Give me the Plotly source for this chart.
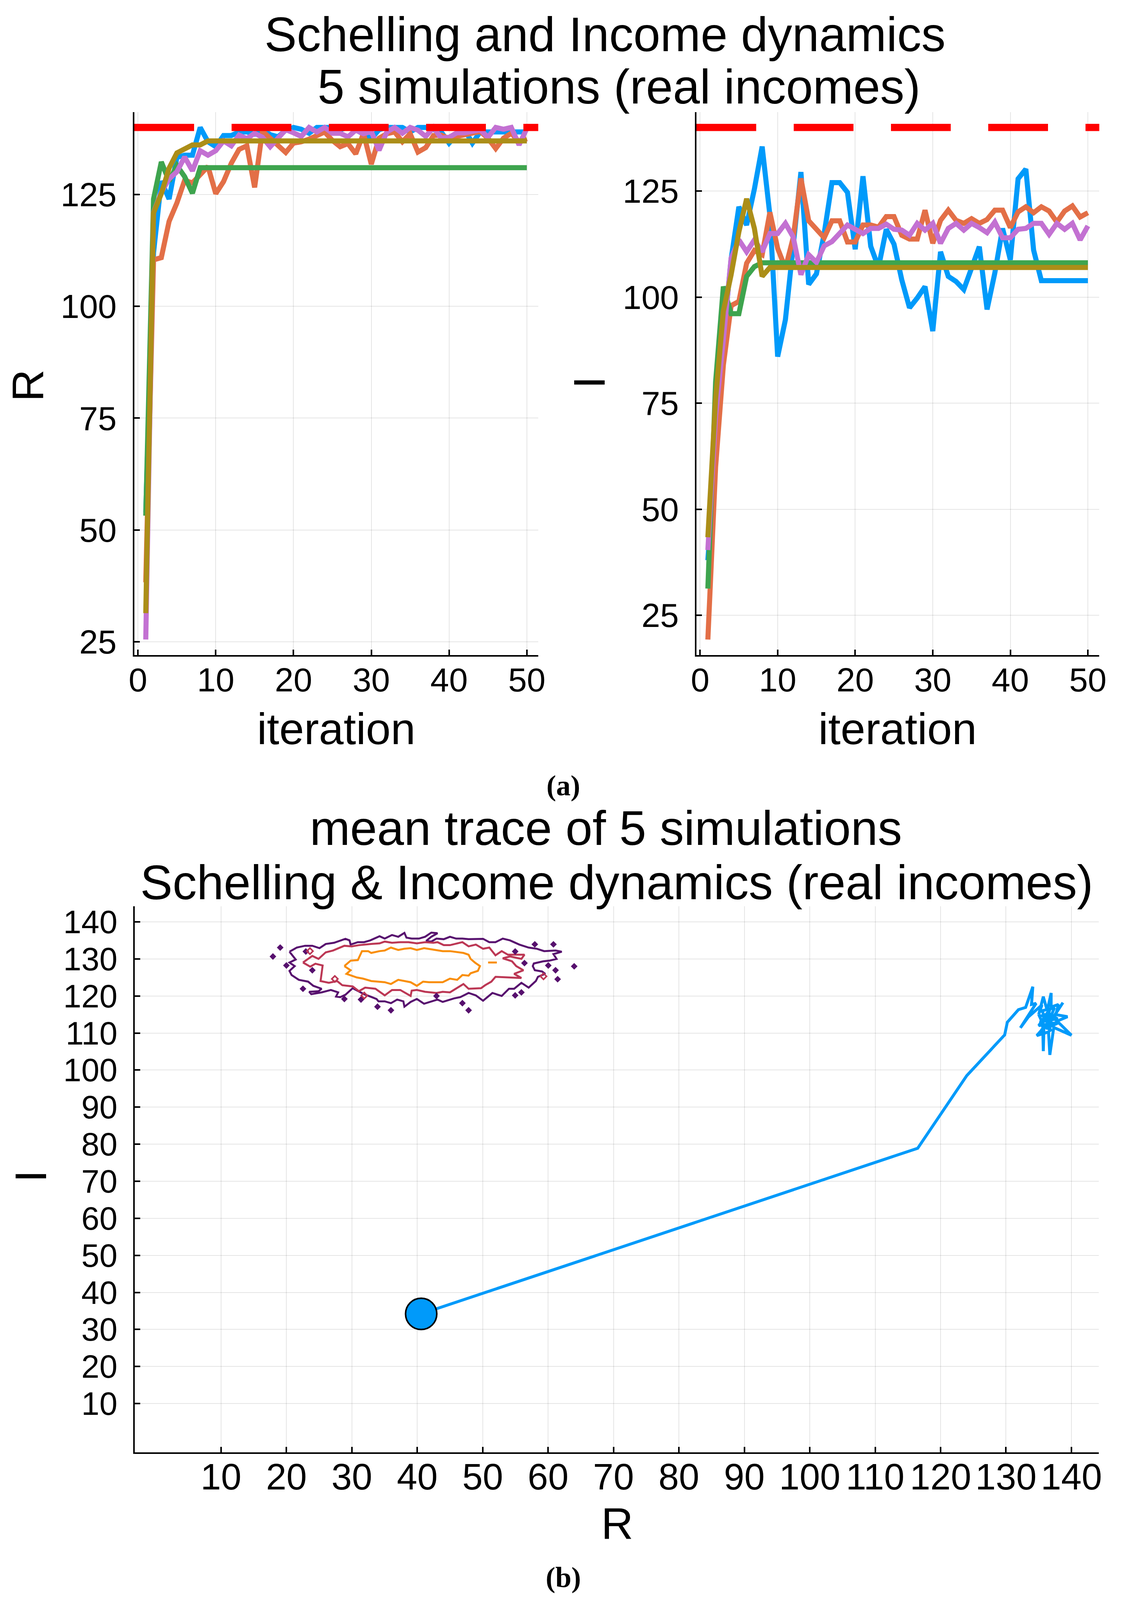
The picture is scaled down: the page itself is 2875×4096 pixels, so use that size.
import plotly.graph_objects as go

# ---------------- data ----------------
iterations = list(range(1, 51))

# R (top-left panel), five simulations
R_sim1 = [54, 112, 128, 124, 133.3, 133.8, 133.8, 140, 136.8, 135.7,
          138.2, 138.2, 139, 139, 138.5, 139.6, 138.4, 137.9, 139.4, 140,
          139.6, 138.7, 140, 140, 140, 139.5, 140, 139.5, 138.5, 137.5,
          139.5, 140, 140, 140, 139, 140, 140, 139.5, 139, 136.5,
          138.5, 139.5, 136.5, 139, 139, 139, 139, 139, 139, 139]
R_sim2 = [38.3, 110.4, 110.9, 119, 123.1, 128.2, 127.6, 129.5, 131.3, 125.2,
          127.9, 132, 135.1, 135.9, 126.6, 139.2, 137.6, 136.3, 134.4, 136.5,
          136.8, 137.4, 138.2, 139, 137.1, 135.7, 136.4, 134.1, 138.7, 131.8,
          137.6, 138.6, 139, 136.8, 138.6, 134.5, 135.5, 138.2, 138.3, 137.5,
          138, 138.4, 138.8, 139.1, 137.6, 135.3, 137.6, 138.7, 136.8, 137.5]
R_sim3 = [53.2, 124, 132.3, 128, 131.5, 129, 125.3, 131, 131, 131,
          131, 131, 131, 131, 131, 131, 131, 131, 131, 131,
          131, 131, 131, 131, 131, 131, 131, 131, 131, 131,
          131, 131, 131, 131, 131, 131, 131, 131, 131, 131,
          131, 131, 131, 131, 131, 131, 131, 131, 131, 131]
R_sim4 = [25.5, 121, 125.5, 128.5, 130.1, 133.4, 130.3, 134.8, 133.8, 134.8,
          137, 135.9, 138.3, 137.5, 138.7, 137.8, 135.7, 137.6, 139.5, 138.8,
          138, 140, 139, 140, 138.7, 138.7, 137.9, 139.4, 138.6, 139.1,
          134.9, 139, 140, 138.7, 140, 139.4, 138, 140, 137.6, 137.8,
          138.8, 138.8, 139.1, 139.5, 137.8, 140, 139.6, 140, 136.1, 139.8]
R_sim5 = [31.4, 120.9, 125.2, 130.9, 134.3, 135.2, 136.1, 136.1, 137, 137,
          137, 137, 137, 137, 137, 137, 137, 137, 137, 137,
          137, 137, 137, 137, 137, 137, 137, 137, 137, 137,
          137, 137, 137, 137, 137, 137, 137, 137, 137, 137,
          137, 137, 137, 137, 137, 137, 137, 137, 137, 137]

# I (top-right panel), five simulations
I_sim1 = [38, 66, 90, 109, 121.3, 117, 125.5, 135.5, 119.3, 86,
          94.7, 112, 129.5, 103, 105.5, 115, 127, 127, 124.7, 111.3,
          128.5, 112, 107, 116, 112.5, 104.1, 97.5, 99.8, 102.5, 92,
          110.7, 104.9, 103.7, 101.8, 107.2, 111.9, 97.1, 105.7, 116.2, 108.8,
          127.9, 130.2, 111.1, 103.9, 103.9, 103.9, 103.9, 103.9, 103.9, 103.9]
I_sim2 = [19.3, 60, 84, 98, 99, 108, 111, 110, 120, 111.5,
          106.8, 114, 128, 118, 116, 114, 118, 118, 113, 113,
          117, 117, 116.5, 119, 119, 114.6, 113.7, 113.7, 120.5, 112.7,
          118.1, 120.5, 118.1, 117.4, 118.5, 117.4, 118.3, 120.5, 120.5, 116.4,
          120.1, 121.3, 119.9, 121.3, 120.3, 117.7, 120.3, 121.5, 118.9, 119.9]
I_sim3 = [31.3, 80, 102.5, 96.1, 96.1, 104.9, 107.2, 108.1, 108.1, 108.1,
          108.1, 108.1, 108.1, 108.1, 108.1, 108.1, 108.1, 108.1, 108.1, 108.1,
          108.1, 108.1, 108.1, 108.1, 108.1, 108.1, 108.1, 108.1, 108.1, 108.1,
          108.1, 108.1, 108.1, 108.1, 108.1, 108.1, 108.1, 108.1, 108.1, 108.1,
          108.1, 108.1, 108.1, 108.1, 108.1, 108.1, 108.1, 108.1, 108.1, 108.1]
I_sim4 = [40.4, 72, 90, 109.2, 113.5, 110.7, 113.5, 110.7, 115, 115,
          117.4, 114.2, 105.3, 110, 108.2, 112.1, 113.1, 115, 117, 116,
          115, 116.2, 116.2, 117.2, 116, 115.8, 114.6, 117.4, 115.8, 117.4,
          112.7, 116.2, 117.4, 115.8, 117.4, 116.4, 115.2, 117.7, 114, 114,
          116, 116.2, 117.4, 117.4, 114.8, 117.4, 116, 117.4, 113.5, 116.8]
I_sim5 = [43.4, 76, 96.7, 105.3, 115.4, 123.2, 116.2, 104.9, 107, 107,
          107, 107, 107, 107, 107, 107, 107, 107, 107, 107,
          107, 107, 107, 107, 107, 107, 107, 107, 107, 107,
          107, 107, 107, 107, 107, 107, 107, 107, 107, 107,
          107, 107, 107, 107, 107, 107, 107, 107, 107, 107]

max_level = 140          # red dashed reference level in both top panels

# mean trace (bottom panel)
mean_R = [40.6, 116.5, 124.0, 129.8, 130.2, 131.9, 133.0, 134.1, 133.9, 134.6,
          132.2, 133.4, 135.5, 135.0, 135.7, 136.3, 136.9, 136.9, 138.0, 137.7,
          138.7, 137.5, 139.4, 137.8, 138.4, 140.0, 137.3, 136.7, 136.5, 134.7,
          135.8, 135.7, 135.6, 135.1, 136.3, 135.4, 136.8, 136.2, 137.2, 136.4,
          137.9, 135.2, 136.9, 135.5, 137.4, 136.1, 138.2, 135.0, 136.5, 137.0,
          135.8, 136.7, 136.2, 137.6, 135.4, 136.6, 136.0, 136.8, 135.9, 136.6]
mean_I = [34.2, 78.9, 98.5, 109.5, 112.9, 116.3, 116.9, 122.5, 117.7, 118.0,
          111.4, 114.3, 117.6, 115.0, 119.8, 116.0, 120.8, 117.0, 117.7, 115.5,
          118.2, 115.0, 114.4, 113.2, 112.2, 109.4, 111.5, 104.1, 110.3, 109.3,
          111.5, 105.1, 112.6, 114.6, 114.8, 113.0, 113.5, 112.0, 114.0, 115.4,
          113.8, 113.2, 110.5, 116.0, 116.8, 111.2, 112.9, 112.0, 115.8, 112.3,
          114.2, 116.4, 113.0, 114.6, 110.8, 112.8, 113.8, 112.8, 114.2, 113.6]

# density contour lines (bottom panel), three levels
outer_R = [20.47, 21.58, 22.85, 23.96, 25.06, 26.01, 27.28, 29.02, 29.65, 29.81,
           30.92, 31.87, 32.82, 34.24, 35.03, 36.14, 37.09, 38.04, 38.35, 39.15,
           40.25, 41.20, 42.15, 43.10, 42.15, 41.36, 42.15, 42.94, 44.05, 45.00,
           45.95, 46.90, 47.85, 50.06, 51.01, 51.96, 53.07, 54.18, 55.60, 57.03,
           58.29, 59.40, 61.14, 62.09, 60.82, 61.30, 60.19, 59.24, 57.82, 57.66,
           57.97, 59.08, 59.56, 58.45, 58.13, 57.03, 55.92, 54.81, 54.02, 52.91,
           51.49, 50.06, 48.96, 47.85, 46.58, 45.63, 43.89, 43.10, 41.04, 39.94,
           38.99, 38.04, 37.88, 36.93, 35.98, 35.03, 34.08, 33.77, 32.82, 31.87,
           30.13, 29.02, 28.23, 27.59, 27.91, 26.80, 25.38, 23.80, 23.48, 24.91,
           25.38, 24.11, 23.32, 21.90, 20.79, 20.47, 21.27, 20.47, 21.42, 20.47]
outer_I = [131.94, 133.06, 133.55, 133.55, 132.90, 134.03, 134.35, 135.42, 135.00, 133.87,
           134.52, 134.52, 135.00, 136.13, 135.48, 136.45, 135.97, 137.03, 135.74, 135.48,
           135.48, 135.97, 137.10, 136.94, 135.97, 134.84, 134.68, 135.48, 135.32, 135.97,
           135.48, 135.48, 135.32, 135.42, 134.52, 134.52, 135.48, 135.00, 133.87, 133.06,
           132.74, 132.10, 132.26, 131.94, 131.29, 130.00, 129.52, 129.35, 128.77, 128.06,
           126.94, 126.61, 125.97, 125.16, 124.03, 122.26, 123.55, 121.94, 121.94, 120.00,
           120.81, 118.71, 120.16, 120.81, 119.68, 119.35, 118.39, 119.03, 117.90, 119.19,
           118.39, 117.10, 118.55, 119.03, 118.06, 118.55, 118.55, 119.19, 119.84, 120.48,
           122.10, 120.32, 119.68, 119.84, 120.97, 121.61, 120.97, 120.48, 121.13, 121.29,
           121.94, 122.74, 123.87, 124.35, 125.65, 126.77, 128.06, 129.03, 129.84, 131.94]

middle_R = [22.53, 23.96, 24.91, 26.01, 27.12, 28.86, 29.97, 31.08, 32.97, 34.24,
            35.03, 36.14, 37.41, 38.67, 39.94, 41.20, 42.47, 43.10, 44.05, 45.00,
            46.11, 46.90, 47.85, 48.96, 50.06, 51.01, 51.96, 52.91, 53.86, 56.39,
            55.92, 54.18, 53.07, 54.49, 55.13, 56.23, 54.81, 55.92, 54.02, 51.96,
            51.33, 50.38, 49.75, 47.85, 47.06, 45.95, 45.00, 43.89, 42.94, 41.20,
            39.94, 39.15, 38.99, 37.41, 36.14, 35.03, 33.61, 32.03, 31.08, 30.13,
            28.54, 27.75, 26.49, 25.22, 25.38, 25.54, 24.43, 23.64, 22.53]
middle_I = [129.03, 130.81, 130.00, 131.77, 132.26, 133.55, 133.39, 133.71, 134.03, 134.19,
            134.68, 134.35, 134.52, 134.52, 134.19, 134.52, 134.35, 134.52, 133.71, 133.71,
            134.19, 134.52, 133.39, 133.87, 132.74, 133.06, 130.97, 132.10, 131.13, 131.13,
            130.00, 130.65, 130.16, 129.35, 128.06, 126.94, 125.97, 124.84, 125.00, 125.16,
            123.87, 122.90, 122.10, 121.94, 123.23, 121.94, 120.97, 121.13, 120.81, 121.13,
            121.61, 121.45, 120.00, 121.61, 121.61, 120.16, 121.94, 122.26, 121.29, 122.58,
            122.90, 124.03, 123.55, 124.03, 126.13, 128.23, 128.71, 127.90, 129.03]

inner_R = [28.86, 29.81, 30.92, 31.55, 32.50, 32.97, 34.24, 35.03, 35.98, 37.09,
           38.04, 38.99, 39.94, 41.04, 42.15, 43.89, 45.00, 47.06, 47.85, 48.16,
           48.80, 49.59, 49.27, 48.16, 47.85, 46.90, 46.11, 45.00, 43.89, 41.84,
           40.89, 39.94, 38.99, 38.04, 37.09, 35.98, 35.03, 32.97, 31.71, 30.76,
           29.18, 29.81, 28.86]
inner_I = [128.06, 129.52, 129.68, 132.10, 132.10, 131.61, 132.10, 132.26, 133.06, 132.42,
           132.74, 132.90, 132.42, 132.90, 132.58, 132.10, 132.10, 131.61, 131.13, 130.00,
           129.03, 128.06, 126.77, 126.13, 125.48, 125.65, 124.35, 124.68, 123.71, 123.71,
           123.87, 122.74, 123.71, 124.03, 124.35, 123.23, 123.71, 124.03, 124.68, 125.00,
           125.97, 126.94, 128.06]

# isolated small islands of the outer level
islands_R = [22.97, 23.96, 54.97, 60.82, 63.99, 56.39, 61.46, 22.53, 28.86, 33.92,
             35.98, 31.40, 42.94, 47.85, 46.90, 17.94, 19.05, 20.00, 60.03, 61.14,
             57.97, 55.92, 54.97]
islands_I = [132.0, 126.94, 132.0, 133.94, 128.0, 128.87, 124.52, 121.94, 119.19, 117.10,
             116.13, 119.03, 120.0, 116.13, 118.06, 130.65, 133.06, 128.23, 128.23, 126.94,
             133.94, 120.97, 120.16]
# small islands of the middle and inner levels
mid_islands_R = [27.4, 23.6, 31.9, 59.3]
mid_islands_I = [124.6, 132.1, 120.1, 125.3]
inner_islands_R = [51.5]
inner_islands_I = [129.03]

grid_extent = [1, 140]          # extent of the density grid (bottom panel)

top_x_ticks = [0, 10, 20, 30, 40, 50]
top_y_ticks = [25, 50, 75, 100, 125]
bottom_ticks = [10, 20, 30, 40, 50, 60, 70, 80, 90, 100, 110, 120, 130, 140]

series_colors = ["#009AFA", "#E36F47", "#3EA44E", "#C371D2", "#AC8E18"]
level_colors = ["#57106E", "#BC3754", "#F98E09"]

# ---------------- figure ----------------
W, H = 2875, 4096
FONT = "Liberation Sans, Arial, Helvetica, sans-serif"
SERIF = "Liberation Serif, DejaVu Serif, serif"


def padded(lo, hi, frac=0.03):
    span = hi - lo
    return [lo - frac * span, hi + frac * span]


def px_x(v):
    return v / W


def px_y(v):
    return 1 - v / H


fig = go.Figure()

R_all = [R_sim1, R_sim2, R_sim3, R_sim4, R_sim5]
I_all = [I_sim1, I_sim2, I_sim3, I_sim4, I_sim5]
LW = 13
for k, ys in enumerate(R_all):
    fig.add_trace(go.Scatter(x=iterations, y=ys, mode="lines", xaxis="x", yaxis="y",
                             line=dict(color=series_colors[k], width=LW),
                             showlegend=False, name=f"sim {k+1}"))
for k, ys in enumerate(I_all):
    fig.add_trace(go.Scatter(x=iterations, y=ys, mode="lines", xaxis="x2", yaxis="y2",
                             line=dict(color=series_colors[k], width=LW),
                             showlegend=False, name=f"sim {k+1}"))

# bottom: contour levels
CW = 5
for (rr, ii, col) in [(outer_R, outer_I, level_colors[0]),
                      (middle_R, middle_I, level_colors[1]),
                      (inner_R, inner_I, level_colors[2])]:
    fig.add_trace(go.Scatter(x=rr, y=ii, mode="lines", xaxis="x3", yaxis="y3",
                             line=dict(color=col, width=CW), showlegend=False))
fig.add_trace(go.Scatter(x=islands_R, y=islands_I, mode="markers", xaxis="x3", yaxis="y3",
                         marker=dict(symbol="diamond", size=11, color=level_colors[0],
                                     line=dict(width=2, color=level_colors[0])),
                         showlegend=False))
fig.add_trace(go.Scatter(x=mid_islands_R, y=mid_islands_I, mode="markers", xaxis="x3", yaxis="y3",
                         marker=dict(symbol="diamond-open", size=12, color=level_colors[1],
                                     line=dict(width=4, color=level_colors[1])),
                         showlegend=False))
fig.add_trace(go.Scatter(x=inner_islands_R, y=inner_islands_I, mode="markers", xaxis="x3", yaxis="y3",
                         marker=dict(symbol="line-ew", size=16, color=level_colors[2],
                                     line=dict(width=5, color=level_colors[2])),
                         showlegend=False))

# bottom: mean trace + starting point
fig.add_trace(go.Scatter(x=mean_R, y=mean_I, mode="lines", xaxis="x3", yaxis="y3",
                         line=dict(color=series_colors[0], width=7.5), showlegend=False))
fig.add_trace(go.Scatter(x=mean_R[:1], y=mean_I[:1], mode="markers", xaxis="x3", yaxis="y3",
                         marker=dict(size=80, color=series_colors[0],
                                     line=dict(color="black", width=4)),
                         showlegend=False))

# red dashed reference lines
for xr, yr in [("x domain", "y"), ("x2 domain", "y2")]:
    fig.add_shape(type="line", xref=xr, yref=yr, x0=0, x1=1, y0=max_level, y1=max_level,
                  line=dict(color="#FF0000", width=18.5, dash="153px,96px"), layer="above")


def axis(size, standoff, **kw):
    d = dict(showline=True, linecolor="black", linewidth=4, mirror=False,
             ticks="inside", ticklen=14, tickwidth=4, tickcolor="black",
             showgrid=True, gridcolor="rgba(0,0,0,0.10)", gridwidth=2,
             zeroline=False, automargin=False, ticklabelstandoff=standoff,
             tickfont=dict(family=FONT, size=size, color="black"))
    d.update(kw)
    return d


R_range = padded(min(min(s) for s in R_all), max(max(max(s) for s in R_all), max_level))
I_range = padded(min(min(s) for s in I_all), max(max(max(s) for s in I_all), max_level))
it_range = padded(min(iterations), max(iterations))
b_range = padded(grid_extent[0], grid_extent[1])

fig.update_layout(
    width=W, height=H, margin=dict(l=0, r=0, t=0, b=0, autoexpand=False),
    paper_bgcolor="white", plot_bgcolor="white", showlegend=False,
    xaxis=axis(86, -14, domain=[335.9 / W, 1370.0 / W], anchor="y", range=it_range,
               tickvals=top_x_ticks),
    yaxis=axis(86, 24, domain=[px_y(1668.5), px_y(279.0)], anchor="x", range=R_range,
               tickvals=top_y_ticks),
    xaxis2=axis(86, -14, domain=[1775.0 / W, 2806.3 / W], anchor="y2", range=it_range,
                tickvals=top_x_ticks),
    yaxis2=axis(86, 24, domain=[px_y(1668.5), px_y(279.0)], anchor="x2", range=I_range,
                tickvals=top_y_ticks),
    xaxis3=axis(94, -22, domain=[337.2 / W, 2804.8 / W], anchor="y3", range=b_range,
                tickvals=bottom_ticks),
    yaxis3=axis(83, 24, domain=[px_y(3710.0), px_y(2312.4)], anchor="x3", range=b_range,
                tickvals=bottom_ticks),
)


def label(text, x, y, size, angle=0, family=FONT):
    fig.add_annotation(text=text, x=px_x(x), y=px_y(y), xref="paper", yref="paper",
                       xanchor="center", yanchor="middle", showarrow=False,
                       textangle=angle, font=dict(family=family, size=size, color="black"))


TITLE = 124
AX = 114
label("Schelling and Income dynamics", 1541, 80, TITLE)
label("5 simulations (real incomes)", 1577, 214, TITLE)
label("iteration", 853, 1857, AX)
label("iteration", 2290, 1857, AX)
label("R", 62, 979, AX, angle=-90)
label("I", 1500, 971, AX, angle=-90)
label("<b>(a)</b>", 1434, 2003, 74, family=SERIF)
label("mean trace of 5 simulations", 1543, 2112, TITLE)
label("Schelling &amp; Income dynamics (real incomes)", 1571, 2251, TITLE)
label("R", 1572, 3891, AX)
label("I", 70, 3003, AX, angle=-90)
label("<b>(b)</b>", 1434, 4030, 74, family=SERIF)

fig.write_html("out.html")
